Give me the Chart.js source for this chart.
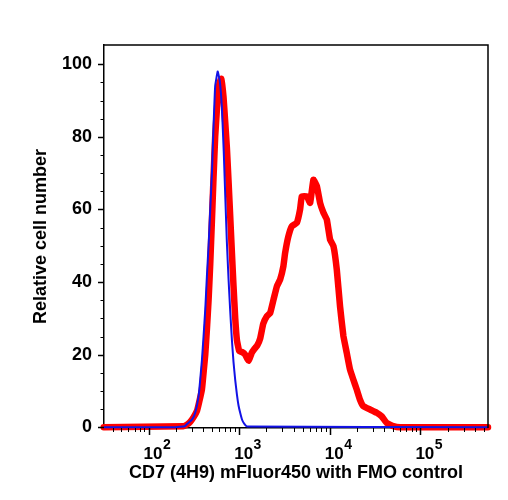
<!DOCTYPE html>
<html><head><meta charset="utf-8">
<script src="https://cdn.jsdelivr.net/npm/chart.js@4/dist/chart.umd.min.js"></script>
<style>html,body{margin:0;padding:0;background:#fff}</style>
</head><body>
<canvas id="c" width="508" height="500"></canvas>
<script>
// ---- data ----
const xTitle = 'CD7 (4H9) mFluor450 with FMO control';
const yTitle = 'Relative cell number';
const yTickValues = [0, 20, 40, 60, 80, 100];
const yMinorTickValues = [5, 10, 15, 25, 30, 35, 45, 50, 55, 65, 70, 75, 85, 90, 95];
const xTickValues = [100, 1000, 10000, 100000];
const xTickBase = '10';
const xTickExponents = ['2', '3', '4', '5'];
const xMinorTickValues = [40, 50, 60, 70, 80, 90,
  200, 300, 400, 500, 600, 700, 800, 900,
  2000, 3000, 4000, 5000, 6000, 7000, 8000, 9000,
  20000, 30000, 40000, 50000, 60000, 70000, 80000, 90000,
  200000, 300000, 400000, 500000];

const fmoLabel = 'FMO control';
const fmoX = [32, 200, 251, 274, 301, 327, 356, 371, 388, 404, 422, 440, 459, 479, 500, 521, 543, 579, 610, 644, 675, 701, 731, 762, 796, 831, 865, 904, 944, 983, 1025, 1079, 1135, 1225, 557000];
const fmoY = [0, 0, 0.3, 1.2, 2.1, 4, 8.5, 13, 18.6, 25, 32.4, 41.6, 50, 60, 70, 83, 94, 98, 95.5, 88, 76, 64, 51, 41, 32, 24, 18, 13, 9, 6, 4, 2, 1, 0.2, 0];

const cd7Label = 'CD7 (4H9) mFluor450';
const cd7X = [32, 242, 267, 288, 314, 342, 362, 388, 404, 422, 440, 459, 479, 500, 521, 543, 576, 607, 634, 671, 701, 731, 762, 796, 831, 865, 904, 944, 1000, 1079, 1164, 1274, 1374, 1463, 1578, 1706, 1840, 2018, 2198, 2393, 2603, 2831, 3076, 3212, 3491, 3811, 4325, 4699, 4909, 5571, 6067, 6592, 7194, 7816, 8511, 9268, 10070, 10970, 11940, 12970, 14130, 15380, 16710, 18200, 19820, 21530, 23440, 27800, 32960, 37410, 42460, 50230, 59570, 557000];
const cd7Y = [0, 0.3, 0.8, 1.5, 2.8, 4.5, 7, 10.5, 15, 20, 27, 35, 45, 57, 69, 80, 90, 95, 96, 91, 84, 77, 68, 58, 48, 39, 30, 24, 21, 20.7, 20, 18.3, 20.5, 21.5, 22.5, 24.5, 28.5, 30.6, 31.5, 35.2, 38.8, 40.7, 44.4, 48, 52.6, 55.4, 56.3, 60, 63.6, 63.6, 61.8, 68.2, 66.4, 61.8, 59.1, 57.2, 51.7, 49.9, 43.4, 33.3, 25.1, 20.5, 15.9, 13.1, 10.4, 7.6, 5.8, 4.9, 4.0, 3.0, 1.2, 0.3, 0, 0];

const xMin = 32.2, xMax = 557000, yMin = -0.2, yMax = 105.3;

const FONT = '"Liberation Sans", Arial, Helvetica, sans-serif';

const decor = {
  id: 'decor',
  afterDraw(chart) {
    const {ctx, chartArea: a, scales: {x, y}} = chart;
    ctx.save();
    ctx.strokeStyle = '#000';
    ctx.lineWidth = 1.5;
    ctx.beginPath();
    ctx.moveTo(a.left, a.top); ctx.lineTo(a.right, a.top); ctx.lineTo(a.right, a.bottom);
    ctx.stroke();
    ctx.lineWidth = 1.5;
    ctx.beginPath();
    xTickValues.forEach(v => { const p = Math.round(x.getPixelForValue(v)) + 0.5; ctx.moveTo(p, a.bottom); ctx.lineTo(p, a.bottom + 7); });
    ctx.stroke();
    ctx.lineWidth = 1;
    ctx.beginPath();
    xMinorTickValues.forEach(v => { const p = Math.round(x.getPixelForValue(v)) + 0.5; ctx.moveTo(p, a.bottom); ctx.lineTo(p, a.bottom + 4); });
    ctx.stroke();
    ctx.lineWidth = 1.5;
    ctx.beginPath();
    yTickValues.forEach(v => { const p = Math.round(y.getPixelForValue(v)) + 0.5; ctx.moveTo(a.left - 6, p); ctx.lineTo(a.left, p); });
    ctx.stroke();
    ctx.lineWidth = 1;
    ctx.beginPath();
    yMinorTickValues.forEach(v => { const p = Math.round(y.getPixelForValue(v)) + 0.5; ctx.moveTo(a.left - 3.5, p); ctx.lineTo(a.left, p); });
    ctx.stroke();
    // x tick labels with superscript exponents
    ctx.fillStyle = '#000';
    ctx.textBaseline = 'alphabetic';
    ctx.textAlign = 'left';
    xTickValues.forEach((v, i) => {
      const p = x.getPixelForValue(v);
      ctx.font = 'bold 17px ' + FONT;
      const w = ctx.measureText(xTickBase).width;
      const left = p - 5;
      ctx.fillText(xTickBase, left, 459);
      ctx.font = 'bold 14px ' + FONT;
      ctx.fillText(xTickExponents[i], left + w + 0.5, 449);
    });
    ctx.restore();
  }
};

new Chart(document.getElementById('c'), {
  type: 'line',
  data: {
    datasets: [
      {
        label: fmoLabel,
        data: fmoX.map((v, i) => ({x: v, y: fmoY[i]})),
        borderColor: '#1212e6',
        borderWidth: 2,
        pointRadius: 0,
        tension: 0.1,
        fill: false,
        clip: 10,
        borderJoinStyle: 'round'
      },
      {
        label: cd7Label,
        data: cd7X.map((v, i) => ({x: v, y: cd7Y[i]})),
        borderColor: '#ff0000',
        borderWidth: 6.5,
        pointRadius: 0,
        tension: 0.1,
        fill: false,
        clip: 10,
        borderJoinStyle: 'round',
        borderCapStyle: 'round'
      }
    ]
  },
  options: {
    responsive: false,
    animation: false,
    devicePixelRatio: 1,
    layout: {padding: {top: 45, right: 20, left: 0, bottom: 0}},
    plugins: {legend: {display: false}, tooltip: {enabled: false}},
    scales: {
      x: {
        type: 'logarithmic',
        min: xMin, max: xMax,
        grid: {display: false, drawTicks: false},
        border: {display: true, color: '#000', width: 1.5},
        ticks: {display: false},
        afterFit(s) { s.height = 72; },
        title: {display: true, text: xTitle, color: '#000',
          font: {family: FONT, size: 18, weight: 'bold'}, padding: {top: 0, bottom: 16}}
      },
      y: {
        type: 'linear',
        min: yMin, max: yMax,
        afterBuildTicks(s) { s.ticks = yTickValues.map(v => ({value: v})); },
        grid: {display: false, drawTicks: true, tickLength: 6},
        border: {display: true, color: '#000', width: 1.5},
        ticks: {color: '#000', padding: 6, font: {family: FONT, size: 18, weight: 'bold'}},
        afterFit(s) { s.width = 104; },
        title: {display: true, text: yTitle, color: '#000',
          font: {family: FONT, size: 18, weight: 'bold'}, padding: {top: 30, bottom: 0}}
      }
    }
  },
  plugins: [decor]
});
</script>
</body></html>
